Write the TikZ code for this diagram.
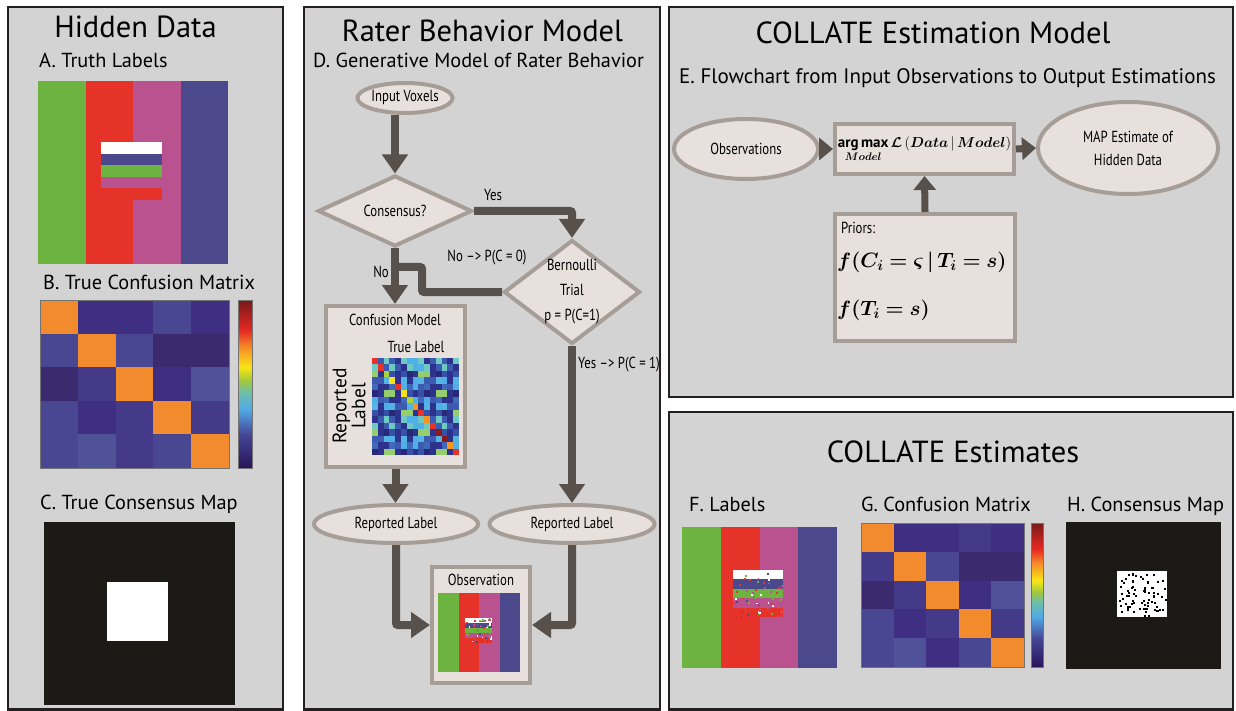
\documentclass[tikz,border=0pt]{standalone}
\usepackage{fontspec}
\setmainfont{PT Sans}
\newfontfamily\narrowfont[FakeStretch=0.8]{PT Sans}
\usepackage{amsmath,bm}
\usetikzlibrary{arrows.meta,shapes.geometric}

% sizes are given so that 1pt is one pixel of the figure
\newcommand\headfont{\fontsize{30.5}{36}\selectfont}
\newcommand\subfont{\fontsize{20.3}{24}\selectfont}
\newcommand\flowfont{\narrowfont\fontsize{16}{19}\selectfont}
\newcommand\axisfont{\fontsize{19.5}{19}\selectfont}
\newcommand\priorfont{\fontsize{21}{25}\selectfont}

\definecolor{panelgray}{RGB}{211,211,211}
\definecolor{panelline}{RGB}{35,31,32}
\definecolor{nodefill}{RGB}{231,224,220}
\definecolor{nodeline}{RGB}{166,157,151}
\definecolor{flowdark}{RGB}{88,80,75}
\definecolor{lblgreen}{RGB}{108,179,63}
\definecolor{lblred}{RGB}{229,51,42}
\definecolor{lblmagenta}{RGB}{185,82,143}
\definecolor{lblblue}{RGB}{75,73,140}
\definecolor{mapblack}{RGB}{27,26,22}
% 5x5 confusion matrix cells
\definecolor{cmO}{RGB}{241,139,45}
\definecolor{cmA}{RGB}{59,42,110}
\definecolor{cmB}{RGB}{63,47,130}
\definecolor{cmC}{RGB}{69,57,138}
\definecolor{cmD}{RGB}{74,71,146}
\definecolor{cmE}{RGB}{79,82,152}
% jet cells of the rater model
\definecolor{jet0}{RGB}{45,50,140}
\definecolor{jet1}{RGB}{55,80,170}
\definecolor{jet2}{RGB}{65,105,185}
\definecolor{jet3}{RGB}{80,175,230}
\definecolor{jet4}{RGB}{40,40,120}
\definecolor{jet5}{RGB}{110,200,195}
\definecolor{jet6}{RGB}{60,90,175}
\definecolor{jet7}{RGB}{150,205,110}
\definecolor{jet8}{RGB}{85,180,225}
\definecolor{jdred}{RGB}{230,50,40}
\definecolor{jdyel}{RGB}{245,225,30}
\definecolor{jdorg}{RGB}{247,150,30}
\definecolor{jdgrn}{RGB}{170,210,60}
\definecolor{jddark}{RGB}{140,25,25}
% colour bar
\definecolor{barlo}{RGB}{40,20,90}
\definecolor{barblue}{RGB}{70,70,150}
\definecolor{barsky}{RGB}{80,170,230}
\definecolor{barteal}{RGB}{110,190,170}
\definecolor{bargreen}{RGB}{160,200,60}
\definecolor{baryellow}{RGB}{250,230,20}
\definecolor{barorange}{RGB}{245,140,40}
\definecolor{barred}{RGB}{230,40,35}
\definecolor{barhi}{RGB}{120,25,25}

\pgfdeclareverticalshading{jetbar}{100bp}{color(0bp)=(barlo); color(25bp)=(barlo);
  color(35bp)=(barblue); color(42.5bp)=(barsky); color(47.5bp)=(barteal);
  color(51bp)=(bargreen); color(55bp)=(baryellow); color(61bp)=(barorange);
  color(66bp)=(barred); color(75bp)=(barhi); color(100bp)=(barhi)}

\pgfmathdeclarerandomlist{noisecol}{{white}{lblblue}{lblgreen}{lblmagenta}{lblred}}
\pgfmathsetseed{12}

\begin{document}
\begin{tikzpicture}[x=1pt,y=-1pt,
  panel/.style={draw=panelline,fill=panelgray,line width=2.5pt},
  flownode/.style={draw=nodeline,fill=nodefill,line width=4pt,inner sep=0pt,font=\flowfont},
  oval/.style={flownode,ellipse},
  decide/.style={flownode,diamond},
  card/.style={flownode,rectangle},
  flowtext/.style={font=\flowfont,inner sep=0pt},
  heading/.style={font=\headfont,anchor=base,inner sep=0pt},
  panelcap/.style={font=\subfont,anchor=base west,inner sep=0pt},
  flowline/.style={draw=flowdark,line width=8pt,rounded corners=2pt},
  flow/.style={flowline,-{Triangle[length=19pt 0,width=25pt 0]}},
  flowshort/.style={draw=flowdark,line width=7pt,-{Triangle[length=14pt 0,width=22pt 0]}},
  matframe/.style={draw=black!55,line width=0.8pt}
]
\useasboundingbox (0,0) rectangle (1236,711);
\fill[white] (0,0) rectangle (1236,711);

% panels
\draw[panel] (8,7) rectangle (283,709.5);
\draw[panel] (304,7) rectangle (660,709.5);
\draw[panel] (669,7) rectangle (1233,397);
\draw[panel] (669,412) rectangle (1233,709.5);

%% Hidden data
\node[heading] (hidtitle) at (135.5,38) {Hidden Data};
\node[panelcap] (capA) at (39,68) {A. Truth Labels};
\foreach \c [count=\n from 0] in {lblgreen,lblred,lblmagenta,lblblue}
  \fill[\c] ({38+47.5*\n},81) rectangle ++(47.5,183);
\foreach \c [count=\n from 0] in {white,lblblue,lblgreen,lblmagenta,lblred}
  \fill[\c] (101,{142+11.6*\n}) rectangle ++(61,11.6);

\node[panelcap] (capB) at (43,290) {B. True Confusion Matrix};
\foreach \cells [count=\r from 0] in {{O,B,B,D,B},{D,O,D,A,A},{A,C,O,B,E},{D,B,C,O,C},{D,E,C,D,O}}
  \foreach \cc [count=\c from 0] in \cells
    \fill[cm\cc] ({40+\c*37.8},{300+\r*33.6}) rectangle ++(37.8,33.6);
\draw[matframe] (40,300) rectangle (229,468);
\shade[shading=jetbar] (238,300) rectangle (252,468);
\draw[matframe] (238,300) rectangle (252,468);

\node[panelcap] (capC) at (40,509) {C. True Consensus Map};
\fill[mapblack] (44,522) rectangle (235,705);
\fill[white] (107,582) rectangle (168,641);

%% Rater behavior model
\node[heading] (ratertitle) at (482.5,42) {Rater Behavior Model};
\node[panelcap] (capD) at (313,68) {D. Generative Model of Rater Behavior};

\node[oval,minimum width=92pt,minimum height=30pt] (inputv) at (405,98) {Input Voxels};
\node[decide,minimum width=154pt,minimum height=71pt,aspect=2] (consensus) at (395,211) {Consensus?};
\node[decide,minimum width=136pt,minimum height=104pt,
  label={[flowtext,align=center]center:{Bernoulli\\[6pt]Trial\\[6pt]p = P(C=1)}}] (bern) at (572,292) {};

\node[card,minimum width=139pt,minimum height=161pt] (confmodel) at (395.5,386.5) {};
\node[flowtext] (cmname) at (395,320) {Confusion Model};
\node[flowtext] (cmtrue) at (416,347) {True Label};
\node[rotate=90,align=center,font=\axisfont,inner sep=0pt] (cmrep) at (349,406) {Reported\\Label};
\foreach \i in {0,...,14}
  \foreach \j in {0,...,14}{
    \pgfmathtruncatemacro\k{mod(3*\i*\i+5*\j+7*\i*\j+\j*\j+2*\i,9)}
    \fill[jet\k] ({372+\j*5.8},{358+\i*6.47}) rectangle ++(5.8,6.47);
  }
\foreach \dc [count=\d from 0] in {jdred,jdred,jdgrn,jdyel,jdred,jdyel,jdgrn,jdorg,jdred,jdorg,jdred,jddark,jddark,jdorg,jdred}
  \fill[\dc] ({372+\d*5.8},{358+\d*6.47}) rectangle ++(5.8,6.47);

\node[oval,minimum width=164pt,minimum height=38pt] (replab1) at (396,524) {Reported Label};
\node[oval,minimum width=165pt,minimum height=38pt] (replab2) at (572,524) {Reported Label};

\node[card,minimum width=98pt,minimum height=116pt] (obsbox) at (481,625) {};
\node[flowtext] (obsname) at (481,580) {Observation};
\foreach \c [count=\n from 0] in {lblgreen,lblred,lblmagenta,lblblue}
  \fill[\c] ({438+20.5*\n},593) rectangle ++(20.5,79);
\foreach \c [count=\n from 0] in {white,lblblue,lblgreen,lblmagenta,lblred}
  \fill[\c] (465,{618+5*\n}) rectangle ++(27,5);
\foreach \n in {1,...,60}{
  \pgfmathrandomitem{\nc}{noisecol}
  \fill[\nc] ({465+25.5*rnd},{618+23.5*rnd}) rectangle ++(1.6,1.6);
}

% flow of the rater model
\draw[flow] (inputv.south -| consensus.north) -- (consensus.north);
\draw[flow] (consensus.east) -| (bern.north);
\node[flowtext] (yeslab) at (493,195) {Yes};
\draw[flow] (consensus.south) -- (consensus.south |- confmodel.north);
\node[flowtext,anchor=east] (nolab) at (389,272) {No};
\coordinate (nomerge) at (395,267);
\draw[flowline] (bern.west) -| ([xshift=27pt]nomerge) -- (nomerge);
\node[flowtext] (nopc) at (487,258) {No –> P(C = 0)};
\draw[flow] (bern.south) -- (bern.south |- replab2.north);
\node[flowtext,anchor=west] (yespc) at (578,365) {Yes –> P(C = 1)};
\draw[flow] (confmodel.south) -- (confmodel.south |- replab1.north);
\draw[flow] (replab1.south) |- (obsbox.west);
\draw[flow] (replab2.south) |- (obsbox.east);

%% COLLATE estimation model
\node[heading] (esttitle) at (933,44) {COLLATE Estimation Model};
\node[panelcap,font=\fontsize{21}{25}\selectfont] (capE) at (679,84) {E. Flowchart from Input Observations to Output Estimations};

\node[oval,minimum width=144pt,minimum height=60pt] (observ) at (746,149) {Observations};
\node[card,minimum width=179pt,minimum height=50pt,font=\fontsize{15}{18}\selectfont] (argmax) at (924.5,149)
  {$\mathop{\mathbf{arg\,max}}\limits_{\bm{Model}}\bm{\mathcal{L}}\,(\bm{Data}\,|\,\bm{Model})$};
\node[oval,minimum width=180pt,minimum height=92pt,align=center] (mapest) at (1128,148) {MAP Estimate of\\[4pt]Hidden Data};
\node[card,minimum width=180pt,minimum height=127pt] (priors) at (925,277.5) {};
\node[flowtext,anchor=west] (priorlab) at (841,228) {Priors:};
\node[anchor=west,inner sep=0pt,font=\priorfont] (prior1) at (837,262) {$\bm{f(C_i=\varsigma\,|\,T_i=s)}$};
\node[anchor=west,inner sep=0pt,font=\priorfont] (prior2) at (837,310) {$\bm{f(T_i=s)}$};

\draw[flowshort] (observ.east) -- (argmax.west);
\draw[flowshort] (argmax.east) -- (mapest.west);
\draw[flowshort] (priors.north) -- (argmax.south);

%% COLLATE estimates
\node[heading] (esttitle2) at (953,462) {COLLATE Estimates};
\node[panelcap] (capF) at (689,511) {F. Labels};
\node[panelcap] (capG) at (861,511) {G. Confusion Matrix};
\node[panelcap] (capH) at (1067,511) {H. Consensus Map};

\foreach \c [count=\n from 0] in {lblgreen,lblred,lblmagenta,lblblue}
  \fill[\c] ({682+38.75*\n},527) rectangle ++(38.75,141);
\foreach \c [count=\n from 0] in {white,lblblue,lblgreen,lblmagenta,lblred}
  \fill[\c] (733,{570+9.4*\n}) rectangle ++(50,9.4);
\foreach \n in {1,...,55}{
  \pgfmathrandomitem{\nc}{noisecol}
  \fill[\nc] ({733+48*rnd},{572+44*rnd}) rectangle ++(1.8,1.8);
}

\foreach \cells [count=\r from 0] in {{O,B,B,C,B},{C,O,D,A,A},{A,C,O,B,E},{D,B,C,O,C},{D,E,B,D,O}}
  \foreach \cc [count=\c from 0] in \cells
    \fill[cm\cc] ({861+\c*32.6},{523+\r*28.8}) rectangle ++(32.6,28.8);
\draw[matframe] (861,523) rectangle (1024,667);
\shade[shading=jetbar] (1031,523) rectangle (1043,667);
\draw[matframe] (1031,523) rectangle (1043,667);

\fill[mapblack] (1066,522) rectangle (1221,669);
\fill[white] (1117,571) rectangle (1167,617);
\foreach \n in {1,...,80}
  \fill[black] ({1118+47*rnd},{572+43*rnd}) rectangle ++(2,2);
\end{tikzpicture}
\end{document}
